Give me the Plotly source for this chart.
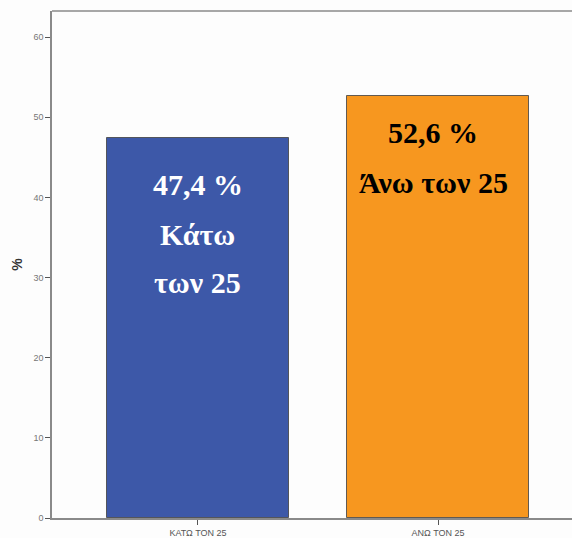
import plotly.graph_objects as go

# Age-group shares (%)
categories = ["ΚΑΤΩ ΤΟΝ 25", "ΑΝΩ ΤΟΝ 25"]
shares = [47.4, 52.6]
group_names = [["Κάτω", "των 25"], ["Άνω των 25"]]
bar_colors = ["#3D58A8", "#F7971F"]
label_colors = ["white", "black"]
y_ticks = [0, 10, 20, 30, 40, 50, 60]


def pct(v):
    return f"{v:.1f}".replace(".", ",") + " %"


fig = go.Figure(
    go.Bar(
        x=[0, 1],
        y=shares,
        width=0.755,
        marker=dict(color=bar_colors, line=dict(color="rgba(70,70,70,0.85)", width=1)),
        hoverinfo="skip",
    )
)

serif = "Liberation Serif, Times New Roman, serif"

# in-bar labels: value line then the group name lines
line_pos = [[41.6, 35.4, 29.4], [48.1, 41.9]]
x_shift = [0, -5]
for i, v in enumerate(shares):
    lines = [pct(v)] + group_names[i]
    for text, ypos in zip(lines, line_pos[i]):
        fig.add_annotation(
            x=i, y=ypos, xref="x", yref="y", text=f"<b>{text}</b>",
            showarrow=False, font=dict(family=serif, size=30, color=label_colors[i]),
            xanchor="center", yanchor="middle", xshift=x_shift[i],
        )

axis_col = "#8a8a8a"

# top frame line across the plot area
fig.add_shape(type="line", xref="paper", yref="paper", x0=0, x1=1, y0=1, y1=1,
              line=dict(color=axis_col, width=1.5))

fig.update_layout(
    width=572, height=538,
    margin=dict(l=52, r=0, t=11, b=20),
    paper_bgcolor="#fdfdfd", plot_bgcolor="#fdfdfd",
    showlegend=False,
    bargap=0,
    xaxis=dict(
        range=[-0.608, 1.558],
        tickvals=[0, 1], ticktext=categories,
        showline=True, linecolor=axis_col, linewidth=1.5,
        ticks="outside", ticklen=5, tickcolor="#555", tickwidth=1,
        tickfont=dict(family="Liberation Sans, Arial, sans-serif", size=9, color="#555"),
        showgrid=False, zeroline=False, fixedrange=True,
    ),
    yaxis=dict(
        range=[0, 63.25],
        tickvals=y_ticks,
        showline=True, linecolor=axis_col, linewidth=1.5,
        ticks="outside", ticklen=5, tickcolor="#555", tickwidth=1,
        tickfont=dict(family="Liberation Sans, Arial, sans-serif", size=9, color="#777"),
        title=dict(text="<b>%</b>", font=dict(family="Liberation Sans, Arial, sans-serif", size=14, color="#333"), standoff=8),
        showgrid=False, zeroline=False, fixedrange=True,
    ),
)

fig.write_html("out.html")
